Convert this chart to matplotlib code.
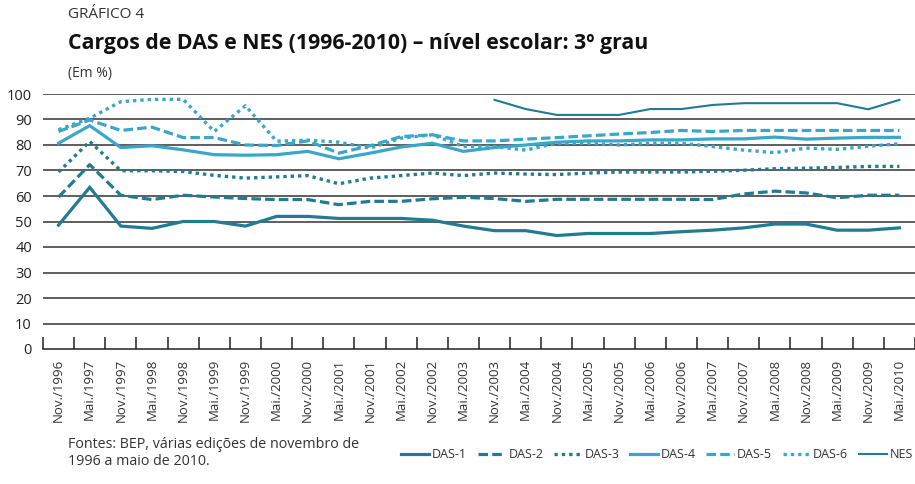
import matplotlib
matplotlib.use("Agg")
import matplotlib.pyplot as plt
import numpy as np

plt.rcParams['font.family'] = ['Open Sans', 'DejaVu Sans']

categories = ["Nov./1996", "Mai./1997", "Nov./1997", "Mai./1998", "Nov./1998", "Mai./1999",
              "Nov./1999", "Mai./2000", "Nov./2000", "Mai./2001", "Nov./2001", "Mai./2002",
              "Nov./2002", "Mai./2003", "Nov./2003", "Mai./2004", "Nov./2004", "Mai./2005",
              "Nov./2005", "Mai./2006", "Nov./2006", "Mai./2007", "Nov./2007", "Mai./2008",
              "Nov./2008", "Mai./2009", "Nov./2009", "Mai./2010"]

das1 = [48.6, 63.4, 48.2, 47.3, 50.0, 50.0, 48.2, 52.0, 52.0, 51.2, 51.2, 51.2, 50.5, 48.2,
        46.4, 46.4, 44.5, 45.3, 45.3, 45.3, 46.0, 46.6, 47.5, 49.0, 49.0, 46.6, 46.6, 47.5]
das2 = [59.6, 72.3, 60.3, 58.6, 60.3, 59.6, 59.0, 58.6, 58.6, 56.6, 57.9, 57.9, 58.9, 59.5,
        59.0, 57.9, 58.7, 58.7, 58.7, 58.7, 58.7, 58.6, 60.8, 61.9, 61.2, 59.3, 60.3, 60.3]
das3 = [69.4, 81.4, 69.9, 69.9, 69.6, 68.1, 67.0, 67.5, 68.0, 64.8, 67.0, 68.0, 69.0, 68.0,
        69.0, 68.6, 68.4, 69.0, 69.4, 69.4, 69.4, 69.7, 70.1, 70.7, 70.9, 71.2, 71.6, 71.6]
das4 = [80.7, 87.6, 79.0, 79.7, 78.1, 76.2, 76.0, 76.2, 77.5, 74.6, 76.8, 79.2, 80.7, 77.5,
        79.0, 80.0, 81.1, 81.6, 81.6, 82.0, 82.0, 82.4, 82.4, 83.1, 82.3, 82.7, 83.0, 83.0]
das5 = [85.3, 89.8, 85.7, 87.0, 82.9, 82.9, 80.0, 79.8, 81.6, 76.8, 79.7, 83.3, 84.0, 81.6,
        81.6, 82.3, 82.9, 83.6, 84.3, 84.9, 85.7, 85.3, 85.7, 85.7, 85.7, 85.7, 85.7, 85.7]
das6 = [86.0, 90.5, 97.0, 97.9, 97.9, 85.3, 95.4, 81.5, 81.9, 81.1, 78.8, 82.7, 84.0, 79.4,
        79.4, 78.0, 80.7, 80.7, 80.0, 80.7, 80.7, 79.4, 78.0, 77.0, 78.8, 78.3, 79.5, 80.5]
nes = [None] * 14 + [97.7, 94.1, 91.8, 91.8, 91.8, 94.1, 94.1, 95.7, 96.4, 96.4, 96.4, 96.4, 94.0, 97.7]

series_names = ["DAS-1", "DAS-2", "DAS-3", "DAS-4", "DAS-5", "DAS-6", "NES"]

DARK = "#207b93"
LIGHT = "#3aa6c9"

fig = plt.figure(figsize=(9.15, 4.84), dpi=100)
ax = fig.add_axes([43 / 915, 1 - 349 / 484, 872 / 915, (349 - 94) / 484])

x = np.arange(len(categories))
styles = [
    (das1, DARK, '-', 2.3),
    (das2, DARK, (0, (3, 1.3)), 2.3),
    (das3, DARK, (0, (1, 1.2)), 2.4),
    (das4, LIGHT, '-', 2.3),
    (das5, LIGHT, (0, (3, 1.3)), 2.3),
    (das6, LIGHT, (0, (1, 1.2)), 2.4),
]
handles = []
for (vals, col, ls, lw), name in zip(styles, series_names[:6]):
    ln, = ax.plot(x, vals, color=col, linestyle=ls, linewidth=lw, clip_on=False,
                  solid_joinstyle='miter', label=name)
    handles.append(ln)
nes_arr = np.array([np.nan if v is None else v for v in nes], dtype=float)
ln, = ax.plot(x, nes_arr, color=DARK, linewidth=1.5, clip_on=False, label="NES")
handles.append(ln)

ax.set_xlim(-0.5, len(categories) - 0.5)
ax.set_ylim(0, 100)
ax.set_yticks(np.arange(0, 101, 10))
for yv in np.arange(10, 101, 10):
    ax.axhline(yv, color="#333333", linewidth=1.1, zorder=0)
for s in ["top", "right", "left"]:
    ax.spines[s].set_visible(False)
ax.spines["bottom"].set_color("#222222")
ax.spines["bottom"].set_linewidth(1.1)

ax.set_xticks(x)
ax.set_xticklabels(categories, rotation=90, fontsize=9.5, color="#333333")
ax.tick_params(axis='x', which='major', length=0, pad=7)
ax.set_xticks(np.arange(-0.5, len(categories), 1.0), minor=True)
ax.tick_params(axis='x', which='minor', direction='in', length=8.5, width=1.1, color="#222222")
ax.tick_params(axis='y', length=0, labelsize=10.5, pad=8, labelcolor="#222222")

fig.text(68 / 915, 1 - 14 / 484, "GRÁFICO 4", fontsize=11, color="#333333", va='center')
fig.text(68 / 915, 1 - 43 / 484, "Cargos de DAS e NES (1996-2010) – nível escolar: 3º grau",
         fontsize=15.3, fontweight='bold', color="#111111", va='center')
fig.text(68 / 915, 1 - 73 / 484, "(Em %)", fontsize=10, color="#333333", va='center')
fig.text(68 / 915, 1 - 453 / 484, "Fontes: BEP, várias edições de novembro de\n1996 a maio de 2010.",
         fontsize=10.3, color="#333333", va='center', linespacing=1.2)

fig.legend(handles=handles, labels=series_names, loc='center right',
           bbox_to_anchor=(913 / 915, 1 - 455 / 484), ncol=7, frameon=False,
           fontsize=9.0, handlelength=2.2, handletextpad=0.25, columnspacing=0.85,
           labelcolor="#333333", borderaxespad=0, borderpad=0)

fig.savefig("out.png", dpi=100)
